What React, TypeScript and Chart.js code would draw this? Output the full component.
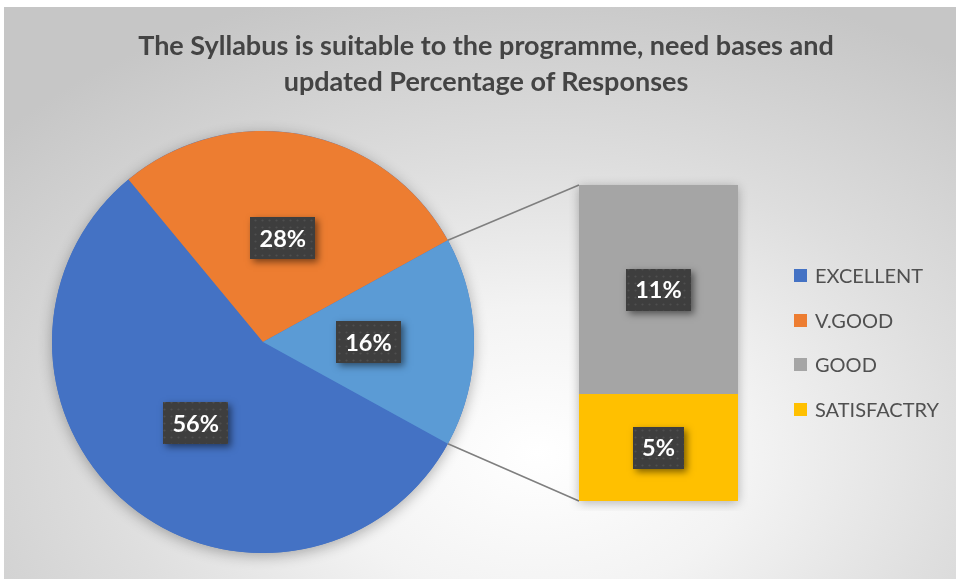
import React, { useEffect, useRef } from "react";
import { Chart, registerables } from "chart.js";

Chart.register(...registerables);

const titleLines = ["The Syllabus is suitable to the programme, need bases and", "updated Percentage of Responses"];
const pieCategories = ["EXCELLENT", "V.GOOD", "Other"];
const pieValues = [56, 28, 16];
const pieColors = ["#4472C4", "#ED7D31", "#5B9BD5"];
const barCategories = ["SATISFACTRY", "GOOD"];
const barValues = [5.4, 10.6];
const barColors = ["#FFC000", "#A5A5A5"];
const legendLabels = ["EXCELLENT", "V.GOOD", "GOOD", "SATISFACTRY"];
const legendColors = ["#4472C4", "#ED7D31", "#A5A5A5", "#FFC000"];

const BAR_LEFT = 569;
const BAR_TOP = 175;

let patternCache: CanvasPattern | null = null;
function getPattern(ctx: CanvasRenderingContext2D) {
  if (patternCache) return patternCache;
  const c = document.createElement("canvas");
  c.width = 7;
  c.height = 7;
  const p = c.getContext("2d")!;
  p.fillStyle = "#3e3e3e";
  p.fillRect(0, 0, 7, 7);
  p.fillStyle = "#4f4f4f";
  p.beginPath();
  p.arc(3.5, 3.5, 1.1, 0, Math.PI * 2);
  p.fill();
  patternCache = ctx.createPattern(c, "repeat");
  return patternCache;
}

function drawLabel(ctx: CanvasRenderingContext2D, x: number, y: number, text: string) {
  ctx.save();
  ctx.font = "bold 23.5px Lato";
  const w = Math.round(ctx.measureText(text).width + 18);
  const h = 42;
  const lx = Math.round(x - w / 2);
  const ly = Math.round(y - h / 2);
  ctx.shadowColor = "rgba(0,0,0,0.5)";
  ctx.shadowBlur = 7;
  ctx.shadowOffsetX = 3;
  ctx.shadowOffsetY = 3;
  ctx.fillStyle = "#3e3e3e";
  ctx.fillRect(lx, ly, w, h);
  ctx.shadowColor = "transparent";
  ctx.fillStyle = getPattern(ctx) || "#3e3e3e";
  ctx.fillRect(lx, ly, w, h);
  ctx.fillStyle = "#ffffff";
  ctx.textAlign = "center";
  ctx.textBaseline = "middle";
  ctx.fillText(text, x, y + 1);
  ctx.restore();
}

export default function App() {
  const pieRef = useRef<HTMLCanvasElement>(null);
  const barRef = useRef<HTMLCanvasElement>(null);

  useEffect(() => {
    const barTotal = barValues.reduce((a, b) => a + b, 0);
    const pieTotal = pieValues.reduce((a, b) => a + b, 0);

    const barPlugin = {
      id: "barExtras",
      beforeDatasetsDraw(chart: any) {
        const ctx = chart.ctx;
        const bottomEl = chart.getDatasetMeta(0).data[0];
        const topEl = chart.getDatasetMeta(chart.data.datasets.length - 1).data[0];
        ctx.save();
        ctx.shadowColor = "rgba(0,0,0,0.28)";
        ctx.shadowBlur = 10;
        ctx.shadowOffsetY = 2;
        ctx.fillStyle = "#A5A5A5";
        ctx.fillRect(topEl.x - topEl.width / 2, topEl.y, topEl.width, bottomEl.base - topEl.y);
        ctx.restore();
      },
      afterDatasetsDraw(chart: any) {
        const ctx = chart.ctx;
        chart.data.datasets.forEach((ds: any, i: number) => {
          const el = chart.getDatasetMeta(i).data[0];
          drawLabel(ctx, el.x, (el.y + el.base) / 2, Math.round(ds.data[0]) + "%");
        });
      },
    };

    const barChart = new Chart(barRef.current!, {
      type: "bar",
      data: {
        labels: ["Other"],
        datasets: barCategories.map((c, i) => ({
          label: c,
          data: [barValues[i]],
          backgroundColor: barColors[i],
          borderWidth: 0,
          barPercentage: 1,
          categoryPercentage: 1,
        })),
      },
      options: {
        responsive: false,
        animation: false,
        layout: { padding: 10 },
        plugins: { legend: { display: false }, tooltip: { enabled: false }, title: { display: false } },
        scales: {
          x: { stacked: true, display: false },
          y: { stacked: true, display: false, min: 0, max: barTotal },
        },
      },
      plugins: [barPlugin],
    });

    const piePlugin = {
      id: "pieExtras",
      beforeDatasetsDraw(chart: any) {
        const ctx = chart.ctx;
        const el = chart.getDatasetMeta(0).data[0];
        ctx.save();
        ctx.shadowColor = "rgba(0,0,0,0.3)";
        ctx.shadowBlur = 14;
        ctx.shadowOffsetY = 3;
        ctx.fillStyle = pieColors[0];
        ctx.beginPath();
        ctx.arc(el.x, el.y, el.outerRadius, 0, Math.PI * 2);
        ctx.fill();
        ctx.restore();
      },
      afterDatasetsDraw(chart: any) {
        const ctx = chart.ctx;
        const meta = chart.getDatasetMeta(0);
        const other = meta.data[meta.data.length - 1];
        const R = other.outerRadius;
        const p1 = { x: other.x + R * Math.cos(other.startAngle), y: other.y + R * Math.sin(other.startAngle) };
        const p2 = { x: other.x + R * Math.cos(other.endAngle), y: other.y + R * Math.sin(other.endAngle) };
        const bm0 = barChart.getDatasetMeta(0).data[0] as any;
        const bmTop = barChart.getDatasetMeta(barCategories.length - 1).data[0] as any;
        const bx = BAR_LEFT + bmTop.x - bmTop.width / 2;
        const by1 = BAR_TOP + bmTop.y;
        const by2 = BAR_TOP + bm0.base;
        ctx.save();
        ctx.strokeStyle = "#7f7f7f";
        ctx.lineWidth = 1.6;
        ctx.beginPath();
        ctx.moveTo(p1.x, p1.y);
        ctx.lineTo(bx, by1);
        ctx.moveTo(p2.x, p2.y);
        ctx.lineTo(bx, by2);
        ctx.stroke();
        ctx.restore();
        meta.data.forEach((arc: any, i: number) => {
          const pos = arc.tooltipPosition();
          drawLabel(ctx, pos.x, pos.y, pieValues[i] + "%");
        });
      },
    };

    const pieChart = new Chart(pieRef.current!, {
      type: "pie",
      data: {
        labels: pieCategories,
        datasets: [
          {
            data: pieValues,
            backgroundColor: pieColors,
            borderWidth: 0,
          },
        ],
      },
      options: {
        responsive: false,
        animation: false,
        rotation: 90 + (180 * pieValues[pieValues.length - 1]) / pieTotal,
        layout: { padding: { left: 52, top: 131, right: 482, bottom: 26 } },
        plugins: { legend: { display: false }, tooltip: { enabled: false }, title: { display: false } },
      },
      plugins: [piePlugin],
    });

    return () => {
      pieChart.destroy();
      barChart.destroy();
    };
  }, []);

  return (
    <div style={{ position: "absolute", left: 0, top: 0, width: 956, height: 579, background: "#ffffff", overflow: "hidden" }}>
      <div
        style={{
          position: "absolute",
          left: 4,
          top: 7,
          width: 952,
          height: 572,
          background: "radial-gradient(ellipse 75% 85% at 56% 78%, #ffffff 0%, #f3f3f3 30%, #dedede 60%, #c6c6c6 100%)",
        }}
      />
      <canvas ref={pieRef} width={956} height={579} style={{ position: "absolute", left: 0, top: 0 }} />
      <canvas ref={barRef} width={179} height={336} style={{ position: "absolute", left: BAR_LEFT, top: BAR_TOP }} />
      <div
        style={{
          position: "absolute",
          left: 0,
          top: 27,
          width: 972,
          textAlign: "center",
          fontFamily: "Lato, sans-serif",
          fontWeight: 700,
          fontSize: 27,
          lineHeight: "35.5px",
          color: "#444444",
          whiteSpace: "nowrap",
        }}
      >
        {titleLines.map((l, i) => (
          <div key={i}>{l}</div>
        ))}
      </div>
      {legendLabels.map((l, i) => (
        <div key={l} style={{ position: "absolute", left: 794, top: 265 + i * 44.7, height: 20 }}>
          <div style={{ position: "absolute", left: 0, top: 4, width: 13, height: 13, background: legendColors[i] }} />
          <div
            style={{
              position: "absolute",
              left: 21,
              top: 0,
              fontFamily: "Lato, sans-serif",
              fontSize: 20,
              lineHeight: "20px",
              color: "#505050",
              whiteSpace: "nowrap",
            }}
          >
            {l}
          </div>
        </div>
      ))}
    </div>
  );
}
